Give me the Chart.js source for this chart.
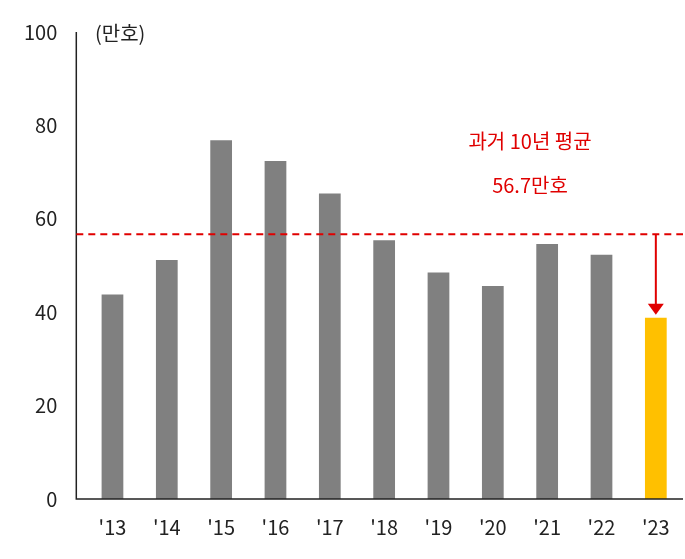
<!DOCTYPE html>
<html><head><meta charset="utf-8">
<script src="https://cdn.jsdelivr.net/npm/chart.js@4"></script>
<style>body{margin:0;background:#fff}#w{width:685px;height:559px}</style>
</head><body><div id="w"><canvas id="c"></canvas></div>
<script>
const categories=["'13","'14","'15","'16","'17","'18","'19","'20","'21","'22","'23"];
const values=[43.8,51.2,76.8,72.4,65.4,55.4,48.5,45.6,54.6,52.3,38.8];
const average=56.7;
const yTicks=[0,20,40,60,80,100];
const colors=values.map((v,i)=>i===values.length-1?'#FFC000':'#808080');
const F="'Noto Sans CJK KR','Noto Sans',sans-serif";
const overlay={id:'ov',afterDatasetsDraw(ch){
  const c=ch.ctx,x=ch.scales.x,y=ch.scales.y,a=ch.chartArea;
  const ax=a.left-9;
  c.save();c.strokeStyle='#222';c.lineWidth=1.5;
  c.beginPath();c.moveTo(ax,a.top);c.lineTo(ax,a.bottom);c.lineTo(a.right,a.bottom);c.stroke();
  const ya=y.getPixelForValue(average);
  c.strokeStyle='#E00000';c.lineWidth=2;c.setLineDash([7,5]);
  c.beginPath();c.moveTo(ax,ya);c.lineTo(a.right,ya);c.stroke();
  c.setLineDash([]);
  const xl=x.getPixelForValue(values.length-1),yb=y.getPixelForValue(values[values.length-1]);
  c.beginPath();c.moveTo(xl,ya);c.lineTo(xl,yb-12);c.stroke();
  c.fillStyle='#E00000';c.beginPath();c.moveTo(xl-8,yb-14);c.lineTo(xl+8,yb-14);c.lineTo(xl,yb-3);c.closePath();c.fill();
  c.font='20px '+F;c.textAlign='center';c.textBaseline='middle';
  c.fillText('과거 10년 평균',530,141);c.fillText('56.7만호',530,185);
  c.fillStyle='#222';c.textAlign='left';c.fillText('(만호)',95,33);
  c.restore();}};
new Chart(document.getElementById('c'),{type:'bar',
 data:{labels:categories,datasets:[{data:values,backgroundColor:colors,barPercentage:0.4,categoryPercentage:1}]},
 options:{responsive:true,maintainAspectRatio:false,animation:false,
  layout:{padding:{top:5,right:2,left:4,bottom:12}},
  plugins:{legend:{display:false},tooltip:{enabled:false}},
  scales:{
   x:{grid:{display:false},border:{display:false},ticks:{color:'#222',font:{size:20,family:F},padding:8}},
   y:{min:0,max:100,afterBuildTicks(s){s.ticks=yTicks.map(v=>({value:v}));},
      grid:{display:false},border:{display:false},ticks:{color:'#222',font:{size:20,family:F},padding:20}}
  }},plugins:[overlay]});
</script></body></html>
